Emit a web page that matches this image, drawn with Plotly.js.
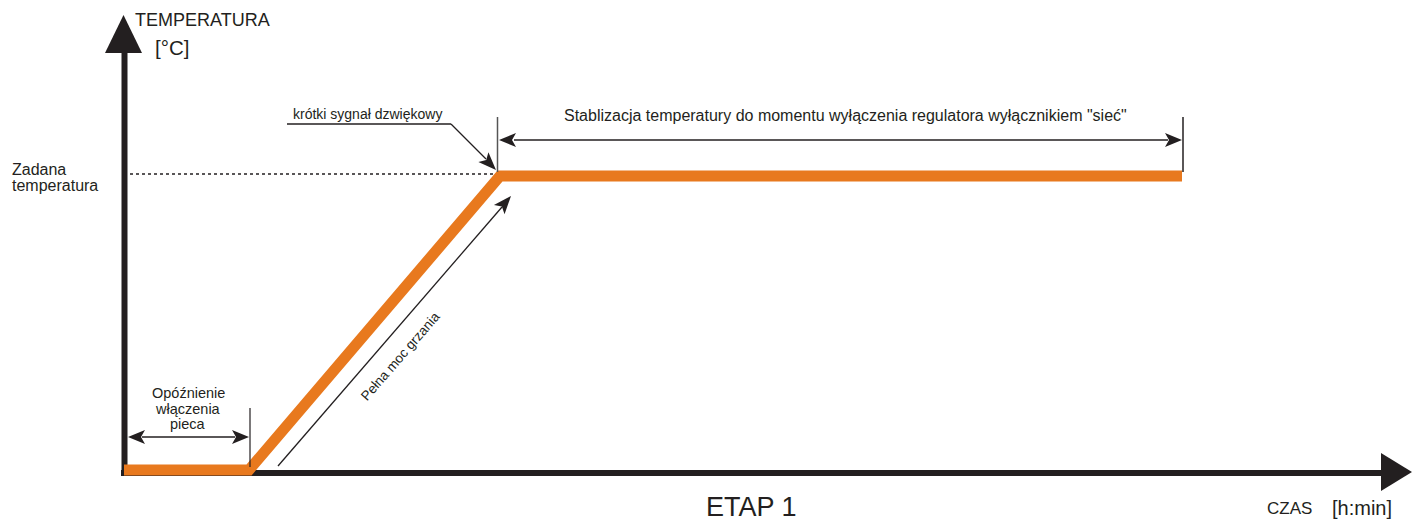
<!DOCTYPE html>
<html>
<head>
<meta charset="utf-8">
<script src="https://cdn.plot.ly/plotly-3.0.1.min.js"></script>
<style>html,body{margin:0;padding:0;background:#fff;}#chart{width:1413px;height:522px;}</style>
</head>
<body>
<div id="chart"></div>
<script>
// ---- data (time units along x, temperature units along y) ----
const timePts = [0, 125, 376, 1058];          // start, end of delay, end of ramp, end of stabilisation
const tempPts = [0, 0, 294, 294];             // temperature profile
const setTemp = 294;                          // "Zadana temperatura"
const yLabel = 'TEMPERATURA';
const yUnit = '[°C]';
const xLabel = 'CZAS';
const xUnit = '[h:min]';
const setLabel = ['Zadana', 'temperatura'];
const delayLabel = ['Opóźnienie', 'włączenia', 'pieca'];
const rampLabel = 'Pełna moc grzania';
const beepLabel = 'krótki sygnał dzwiękowy';
const stabLabel = 'Stablizacja temperatury do momentu wyłączenia regulatora wyłącznikiem "sieć"';
const stageLabel = 'ETAP 1';

const INK = '#231F20';
const ORANGE = '#E8791E';
const FONT = 'Liberation Sans, Arial, sans-serif';

function head(tx, ty, fx, fy, len, hw, notch) {
  // arrowhead with tip at (tx,ty), pointing away from (fx,fy)
  const dx = tx - fx, dy = ty - fy, d = Math.hypot(dx, dy);
  const ux = dx / d, uy = dy / d, nx = -uy, ny = ux;
  const bx = tx - ux * len, by = ty - uy * len;
  const mx = tx - ux * (len - notch), my = ty - uy * (len - notch);
  return {type: 'path', xref: 'x', yref: 'y',
    path: `M${tx},${ty} L${bx + nx * hw},${by + ny * hw} L${mx},${my} L${bx - nx * hw},${by - ny * hw} Z`,
    fillcolor: INK, line: {width: 0}};
}
function seg(x0, y0, x1, y1, w, c, dash, layer) {
  return {type: 'line', xref: 'x', yref: 'y', x0, y0, x1, y1,
    line: {color: c || INK, width: w, dash: dash || 'solid'}, layer: layer || 'above'};
}
function txt(x, y, t, size, xa, extra) {
  return Object.assign({x, y, xref: 'x', yref: 'y', text: t, showarrow: false,
    xanchor: xa || 'center', yanchor: 'middle',
    font: {family: FONT, size, color: INK}}, extra || {});
}

const tEnd = timePts[timePts.length - 1];
const tDelay = timePts[1];
const tRamp = timePts[2];

const shapes = [
  // y axis
  seg(0.5, -6, 0.5, 418, 6, INK, 'solid', 'below'),
  {type: 'path', xref: 'x', yref: 'y', path: 'M-0.5,455 L-19,417 L18,417 Z', fillcolor: INK, line: {width: 0}},
  // x axis
  seg(-3, -3, 1258, -3, 6, INK, 'solid', 'below'),
  {type: 'path', xref: 'x', yref: 'y', path: 'M1288,-2 L1257,17 L1257,-21 Z', fillcolor: INK, line: {width: 0}},
  // dotted set-temperature line
  seg(6, setTemp + 2, tRamp - 3, setTemp + 2, 1.6, INK, 'dot', 'below'),
  // delay: vertical marker + double arrow
  seg(tDelay + 1, 3, tDelay + 1, 62, 1.2, INK),
  seg(18, 33, tDelay - 14, 33, 1.3, INK),
  head(4, 33, 30, 33, 17, 7, 4),
  head(tDelay, 33, 0, 33, 17, 7, 4),
  // stabilisation: vertical markers + double arrow
  seg(tRamp - 2.5, 298, tRamp - 2.5, 353, 1.5, '#555'),
  seg(tEnd + 1, 298, tEnd + 1, 353, 1.5, INK),
  seg(tRamp + 14, 330, tEnd - 14, 330, 1.3, INK),
  head(tRamp - 1, 330, tRamp + 30, 330, 17, 7, 4),
  head(tEnd, 330, tRamp, 330, 17, 7, 4),
  // full-power arrow parallel to ramp
  seg(154, 4, 378, 263, 1.3, INK),
  head(387, 274, 154, 4, 18, 7, 4),
  // beep leader
  seg(163, 346, 327, 346, 1.3, INK),
  seg(327, 346, 362, 311, 1.3, INK),
  head(372, 300, 327, 346, 18, 7, 4)
];

const annotations = [
  txt(9, 450, yLabel, 18, 'left'),
  txt(29, 423, yUnit, 20.5, 'left'),
  txt(-114, 301, setLabel[0], 16, 'left'),
  txt(-114, 285, setLabel[1], 16, 'left'),
  txt(243, 356, beepLabel, 14),
  txt(721, 355, stabLabel, 16),
  txt(276, 114, rampLabel, 13.5, 'center', {textangle: -49}),
  txt(64, 77, delayLabel[0], 14.5),
  txt(64, 61, delayLabel[1], 14.5),
  txt(64, 46, delayLabel[2], 14.5),
  txt(1141, -38, xLabel, 17, 'left'),
  txt(1206, -38, xUnit, 20, 'left'),
  txt(627, -52, stageLabel, 27, 'center', {yanchor: 'bottom', borderpad: 0, borderwidth: 0})
];

const trace = {
  x: timePts, y: tempPts, type: 'scatter', mode: 'lines',
  line: {color: ORANGE, width: 11, shape: 'linear'},
  hoverinfo: 'skip'
};

const layout = {
  width: 1413, height: 522,
  margin: {l: 0, r: 0, t: 0, b: 0, pad: 0},
  paper_bgcolor: '#fff', plot_bgcolor: '#fff',
  showlegend: false,
  xaxis: {range: [-124, 1289], visible: false, fixedrange: true},
  yaxis: {range: [-52, 470], visible: false, fixedrange: true},
  shapes, annotations
};

Plotly.newPlot('chart', [trace], layout, {displayModeBar: false, staticPlot: true});
</script>
</body>
</html>
